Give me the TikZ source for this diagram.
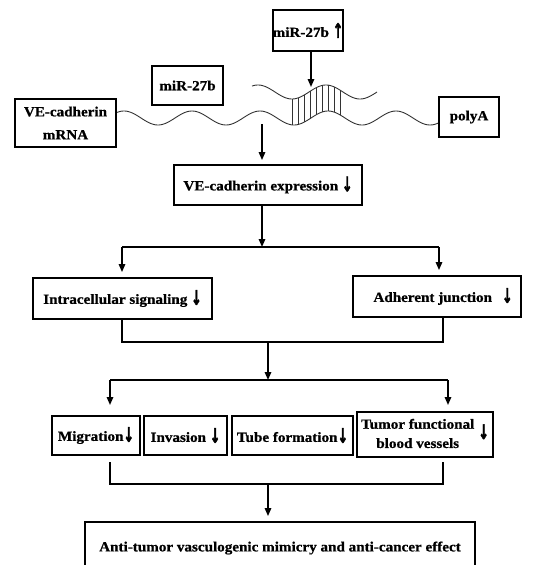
\documentclass[tikz,border=0pt]{standalone}
\usepackage{fontspec}
\setmainfont{Liberation Serif}[FakeStretch=1.08, BoldFeatures={FakeBold=0.8}]
\newfontfamily\arrfont{DejaVu Sans Bold}[FakeBold=2.5]
\usetikzlibrary{arrows.meta}
\newcommand{\dn}{{\arrfont\raisebox{-1pt}{\scalebox{0.9}[1.45]{↓}}}}
\newcommand{\upa}{{\arrfont\raisebox{-1pt}{\scalebox{0.9}[1.45]{↑}}}}
\begin{document}
\begin{tikzpicture}[x=1pt,y=-1pt,
  box/.style={draw, line width=1.9pt, inner sep=0pt, align=center,
    font=\fontsize{14}{16}\selectfont\bfseries},
  ln/.style={line width=1.5pt},
  arr/.style={line width=1.5pt,-{Triangle[length=8pt,width=6.5pt]}},
  wave/.style={line width=0.9pt, black!80}]
\useasboundingbox (0,0) rectangle (557,565);
\clip (0,0) rectangle (557,565);
% RNA strands
\draw[wave] plot[domain=116:439, samples=180] (\x,{118-7*cos(5.2941*(\x-328))});
\draw[wave] plot[domain=252:377, samples=90] (\x,{92-7*cos(5.2941*(\x-326))});
\foreach \hx in {292,298,...,340}
  \draw[wave] (\hx,{92-7*cos(5.2941*(\hx-326))}) -- (\hx,{118-7*cos(5.2941*(\hx-328))});
% boxes
\node[box, minimum width=70, minimum height=41] (up) at (308,30.5) {miR-27b \upa};
\node[box, minimum width=71, minimum height=39] (m27) at (187.5,85.5) {miR-27b};
\node[box, minimum width=101, minimum height=48, fill=white] (mrna) at (65.5,123) {VE-cadherin\\[7pt]mRNA};
\node[box, minimum width=60, minimum height=40, fill=white] (polya) at (469,117) {polyA};
\node[box, minimum width=188, minimum height=40] (expr) at (268,185) {VE-cadherin expression \dn};
\node[box, minimum width=179, minimum height=41] (intra) at (122.5,298.5) {Intracellular signaling \dn};
\node[box, minimum width=168, minimum height=41] (adh) at (437,296.5) {\hspace*{12pt}Adherent junction\hspace{10pt}\dn};
\node[box, minimum width=88, minimum height=39] (mig) at (96,435.5) {Migration\dn};
\node[box, minimum width=83, minimum height=39] (inv) at (185.5,435.5) {Invasion \dn};
\node[box, minimum width=121, minimum height=39] (tube) at (292.5,435.5) {Tube formation\dn};
\node[box, minimum width=136, minimum height=45] (tum) at (425,434.5)
  {\renewcommand{\arraystretch}{1.2}\begin{tabular}{@{}c@{}}Tumor functional\\blood vessels\end{tabular}\hspace{4pt}\dn};
\node[box, minimum width=390, minimum height=52] (fin) at (280,548) {Anti-tumor vasculogenic mimicry and anti-cancer effect};
% connectors
\coordinate (tgt) at (311,87);
\draw[arr] (up.south -| tgt) -- (tgt);
\coordinate (src) at (262,124);
\draw[arr, shorten >=4pt] (src) -- (src |- expr.north);
\coordinate (j1) at (262,247);
\draw[arr] (expr.south -| j1) -- (j1);
\coordinate (jl1) at (122,247);
\coordinate (jr1) at (439,247);
\draw[ln] (jl1) -- (jr1);
\draw[arr, shorten >=5pt] (jl1) -- (jl1 |- intra.north);
\draw[arr, shorten >=5pt] (jr1) -- (jr1 |- adh.north);
\coordinate (j2) at (268,342);
\coordinate (ar) at ([xshift=6pt]adh.south);
\draw[ln] (intra.south -| jl1) -- (jl1 |- j2) -- (ar |- j2) -- (ar);
\coordinate (j3) at (268,380);
\draw[arr] (j2) -- (j3);
\coordinate (l3) at (110,380);
\coordinate (r3) at (448,380);
\coordinate (l3e) at (110,405);
\coordinate (r3e) at (448,405);
\draw[ln] (l3) -- (r3);
\draw[arr] (l3) -- (l3e);
\draw[arr] (r3) -- (r3e);
\coordinate (l4s) at (110,462);
\coordinate (l4) at (110,484);
\coordinate (r4s) at (443,462);
\coordinate (r4) at (443,484);
\coordinate (j4) at (268,484);
\draw[ln] (l4s) -- (l4) -- (r4) -- (r4s);
\draw[arr, shorten >=5pt] (j4) -- (j4 |- fin.north);
\end{tikzpicture}
\end{document}
